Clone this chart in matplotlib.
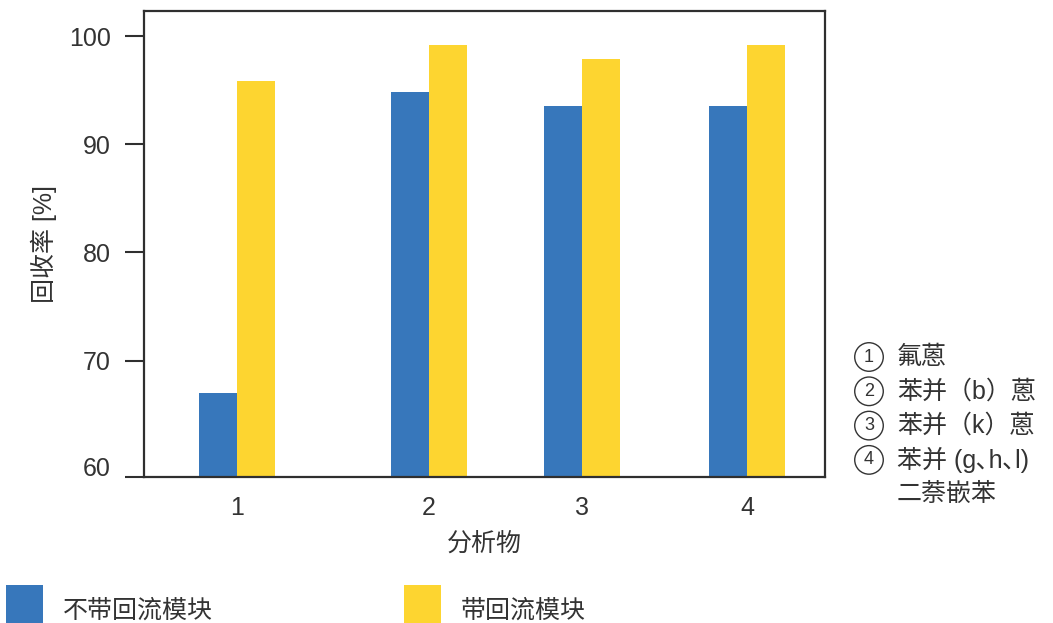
import numpy as np
import matplotlib
matplotlib.use('Agg')
from matplotlib import pyplot as plt
from matplotlib.patches import Rectangle
from matplotlib.transforms import ScaledTranslation

plt.rcParams['font.family'] = ['Liberation Sans', 'Noto Sans CJK SC', 'DejaVu Sans']

# data
categories = ['1', '2', '3', '4']
cat_pos = [1.0, 2.0, 2.797, 3.661]       # groups are not evenly spaced in the original
no_reflux = [67.0, 94.8, 93.5, 93.5]
with_reflux = [95.8, 99.2, 97.9, 99.2]
series_names = ['不带回流模块', '带回流模块']
yticks = [60, 70, 80, 90, 100]
note_nums = ['1', '2', '3', '4', '']
notes = ['氟蒽', '苯并（b）蒽', '苯并（k）蒽', '苯并 (g､h､l)', '二萘嵌苯']

blue = '#3777bb'
yellow = '#fdd530'
dark = '#2f2f2f'
txt = '#333333'
fs = 18

fig = plt.figure(figsize=(10.53, 6.23), dpi=100)
ax = fig.add_axes([144.3 / 1053, 1 - 476.7 / 623, (824.5 - 144.3) / 1053, (476.7 - 10.7) / 623])

ymin, ymax = 59.26, 102.34
w = 0.198
x = np.array(cat_pos)
ax.bar(x - w / 2, np.array(no_reflux) - ymin, w, bottom=ymin, color=blue)
ax.bar(x + w / 2, np.array(with_reflux) - ymin, w, bottom=ymin, color=yellow)

ax.set_xlim(0.517, 4.063)
ax.set_ylim(ymin, ymax)

# the 60 tick sits on the bottom spine in the original
tick_locs = [ymin] + yticks[1:]
ax.set_yticks(tick_locs, [str(t) for t in yticks])
ax.set_xticks(x, categories)

for s in ax.spines.values():
    s.set_color(dark)
    s.set_linewidth(1.6)

ax.tick_params(axis='y', length=14, width=1.5, color=dark, pad=10, labelsize=fs, labelcolor=txt)
ax.tick_params(axis='x', length=0, pad=14, labelsize=fs, labelcolor=txt)

lbl60 = ax.get_yticklabels()[0]
lbl60.set_transform(lbl60.get_transform() + ScaledTranslation(0, 7 / 72, fig.dpi_scale_trans))

ax.set_ylabel('回收率 [%]', fontsize=fs, color=txt)
ax.yaxis.set_label_coords(-0.128, 0.5)
ax.set_xlabel('分析物', fontsize=fs, color=txt, labelpad=8)

# notes on the right, circled numbers
for i, (num, n) in enumerate(zip(note_nums, notes)):
    yy = 1 - (357 + i * 34.3) / 623
    if num:
        fig.text(869 / 1053, yy, num, fontsize=13, color=txt, va='center', ha='center',
                 bbox=dict(boxstyle='circle,pad=0.32', fc='none', ec=txt, lw=1.0))
    fig.text(897 / 1053, yy, n, fontsize=fs, color=txt, va='center', ha='left')

# legend along the bottom
colors = [blue, yellow]
for i, name in enumerate(series_names):
    x0 = 6 + i * 398
    fig.add_artist(Rectangle((x0 / 1053, 0), 37 / 1053, 38 / 623, transform=fig.transFigure,
                             facecolor=colors[i], edgecolor='none'))
    fig.text((x0 + 57) / 1053, 1 - 611 / 623, name, fontsize=fs, color=txt, va='center', ha='left')

fig.savefig('out.png', dpi=100)
